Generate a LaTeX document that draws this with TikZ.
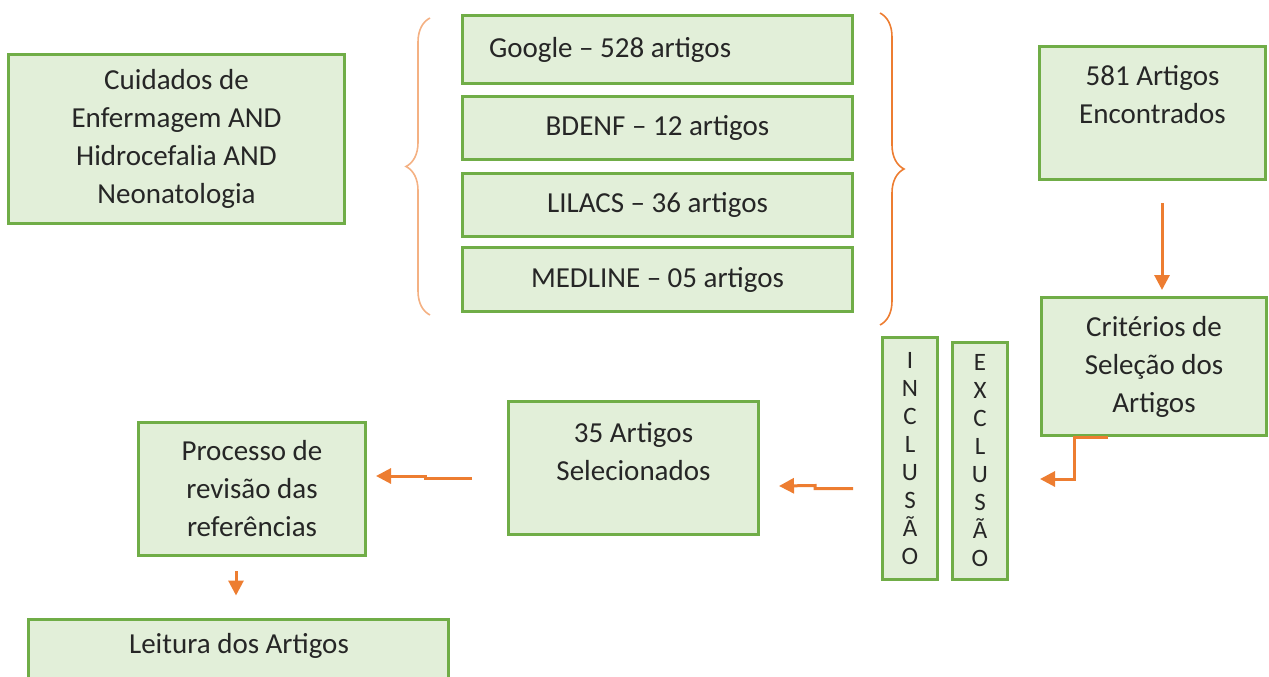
\documentclass[tikz,border=0pt]{standalone}
\usepackage{fontspec}
\setmainfont{Carlito}
\usetikzlibrary{positioning,arrows.meta,decorations.pathreplacing}
\definecolor{boxfill}{HTML}{E2EFD9}
\definecolor{boxline}{HTML}{70AD47}
\definecolor{myorange}{HTML}{ED7D31}
\definecolor{lightorange}{HTML}{F4B183}

\begin{document}
\begin{tikzpicture}[x=1pt,y=-1pt,
  box/.style={draw=boxline,fill=boxfill,line width=3pt,align=center,
    font=\fontsize{29}{38}\selectfont,text=black!85},
  dbbox/.style={box,minimum width=390pt,minimum height=63pt},
  vbox/.style={box,minimum width=55pt,font=\fontsize{25}{28}\selectfont},
  txt/.style={align=center,font=\fontsize{29}{38}\selectfont,text=black!85},
  arr/.style={draw=myorange,line width=3pt,-{Triangle[length=15pt,width=15pt]}},
  brc/.style={line width=1.6pt,decorate,decoration={brace,amplitude=24pt}}]

  \useasboundingbox (0,0) rectangle (1269,677);

  % search terms
  \node[box,minimum width=336pt,minimum height=169pt] (query) at (176.5,139)
    {Cuidados de\\Enfermagem AND\\Hidrocefalia AND\\Neonatologia};

  % databases
  \node[dbbox,minimum height=68pt,text width=337pt,inner xsep=26.5pt,align=flush left]
    (google) at (657.5,49.5) {Google -- 528 artigos};
  \node[dbbox,below=10pt of google] (bdenf) {BDENF -- 12 artigos};
  \node[dbbox,below=11pt of bdenf] (lilacs) {LILACS -- 36 artigos};
  \node[dbbox,below=8pt of lilacs,minimum height=64pt] (medline) {MEDLINE -- 05 artigos};

  % braces
  \coordinate (lbtop) at (430,18);
  \coordinate (lbbot) at (430,315);
  \coordinate (rbtop) at (880,13);
  \coordinate (rbbot) at (880,325);
  \draw[brc,lightorange] (lbbot) -- (lbtop);
  \draw[brc,myorange] (rbtop) -- (rbbot);

  % right column
  \node[box,minimum width=226pt,minimum height=133pt] (found) at (1152.5,113) {};
  \node[txt] (foundtxt) at (1152.5,95) {581 Artigos\\Encontrados};
  \node[box,minimum width=225pt,minimum height=138pt] (crit) at (1154,366.5)
    {Critérios de\\Seleção dos\\Artigos};

  % inclusion / exclusion
  \node[vbox,minimum height=237pt] (excl) at (980,461) {E\\X\\C\\L\\U\\S\\Ã\\O};
  \node[vbox,minimum height=242pt] (incl) at (910,458.5) {I\\N\\C\\L\\U\\S\\Ã\\O};

  % bottom row
  \node[box,minimum width=250pt,minimum height=133pt] (selected) at (633.5,468) {};
  \node[txt] (selectedtxt) at (633.5,452) {35 Artigos\\Selecionados};
  \node[box,minimum width=227pt,minimum height=133pt] (review) at (252,489)
    {Processo de\\revisão das\\referências};
  \node[box,minimum width=420pt,minimum height=90pt,anchor=north] (reading)
    at (238.5,617.5) {};
  \node[txt] (readingtxt) at (239,646) {Leitura dos Artigos};

  % arrows
  \draw[arr,shorten <=22pt,shorten >=6pt]
    ([xshift=9.5pt]found.south) -- ([xshift=8pt]crit.north);
  \draw[arr] ([xshift=-46pt]crit.south) -| ++(-34,42) -- ++(-34,0);
  \draw[arr] ([xshift=-28pt,yshift=-30pt]incl.west) -- ++(-38,0) -- ++(0,-3)
    -- ([xshift=19pt,yshift=-18pt]selected.east);
  \draw[arr] ([xshift=-35pt,yshift=-10pt]selected.west) -- ++(-47,0) -- ++(0,-2)
    -- ([xshift=9pt,yshift=13pt]review.east);
  \draw[arr,shorten <=14pt,shorten >=22pt]
    ([xshift=-16pt]review.south) -- ([xshift=-2.5pt]reading.north);

\end{tikzpicture}
\end{document}
